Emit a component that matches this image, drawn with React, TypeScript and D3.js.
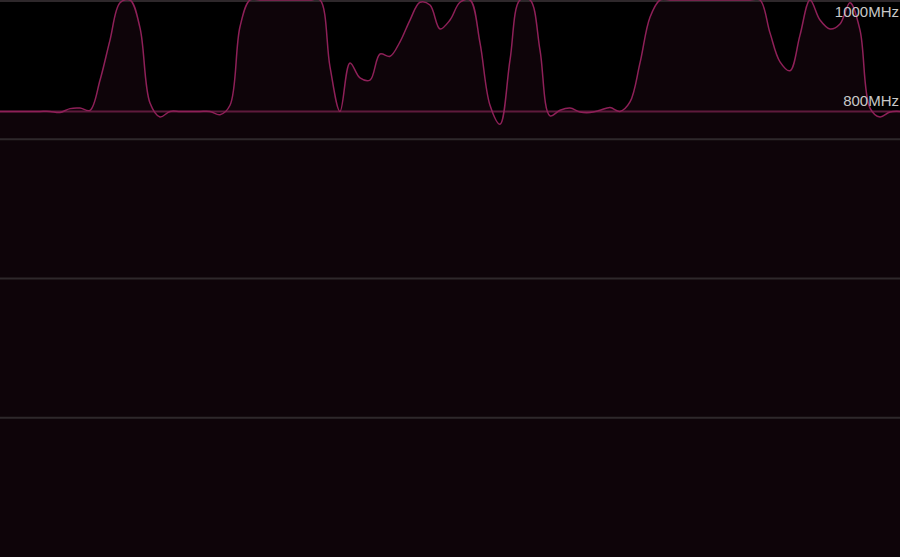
import React from "react";
import * as d3 from "d3";

const W = 900;
const H = 557;

// GPU clock samples (MHz), one every 10 px step of time
const clockMHz: number[] = [
  800, 800, 800, 800, 800, 800, 798, 805, 806, 802,
  856, 928, 995, 1000, 950, 815, 790, 800, 800, 800,
  800, 800, 794, 811, 952, 1000, 1000, 1000, 1000, 1000,
  1000, 1000, 1000, 880, 800, 887, 860, 856, 903, 899,
  925, 964, 996, 991, 948, 964, 996, 1000, 923, 811,
  777, 892, 1000, 1000, 910, 792, 802, 806, 799, 798,
  802, 807, 800, 817, 887, 969, 1000, 1000, 1000, 1000,
  1000, 1000, 1000, 1000, 1000, 1000, 1000, 941, 889, 873,
  937, 1000, 964, 948, 957, 995, 946, 806, 790, 799,
  800,
];

const gridFractions: number[] = [0, 0.25, 0.5, 0.75];
const markerValues: number[] = [1000, 800];
const markerLabels: string[] = ["1000MHz", "800MHz"];

export default function App() {
  const x = d3.scaleLinear().domain([0, clockMHz.length - 1]).range([0, W]);
  const y = d3.scaleLinear().domain([0, 1000]).range([H, 0]);

  const curve = d3.curveCatmullRom.alpha(0.5);

  const line = d3
    .line<number>()
    .x((_, i) => x(i))
    .y((d) => y(Math.min(d, 1000)))
    .curve(curve);

  const area = d3
    .area<number>()
    .x((_, i) => x(i))
    .y0(H)
    .y1((d) => y(Math.min(d, 1000)))
    .curve(curve);

  return (
    <svg
      width={W}
      height={H}
      style={{ position: "absolute", left: 0, top: 0, display: "block", background: "#000" }}
    >
      <rect x={0} y={0} width={W} height={H} fill="#000" />
      <path d={area(clockMHz) || ""} fill="#0e0409" />
      {gridFractions.map((f, i) => (
        <line
          key={i}
          x1={0}
          x2={W}
          y1={Math.max(1, f * H)}
          y2={Math.max(1, f * H)}
          stroke="#2e282b"
          strokeWidth={2}
        />
      ))}
      <line
        x1={0}
        x2={W}
        y1={y(800)}
        y2={y(800)}
        stroke="#5e1a3c"
        strokeWidth={2}
      />
      <path d={line(clockMHz) || ""} fill="none" stroke="#8e2058" strokeWidth={1.5} />
      {markerValues.map((v, i) => (
        <text
          key={i}
          x={W - 1}
          y={v === 1000 ? 17 : y(v) - 5}
          textAnchor="end"
          fill="#c8c8c8"
          fontFamily="'Liberation Sans', Arial, sans-serif"
          fontSize={15}
        >
          {markerLabels[i]}
        </text>
      ))}
    </svg>
  );
}
